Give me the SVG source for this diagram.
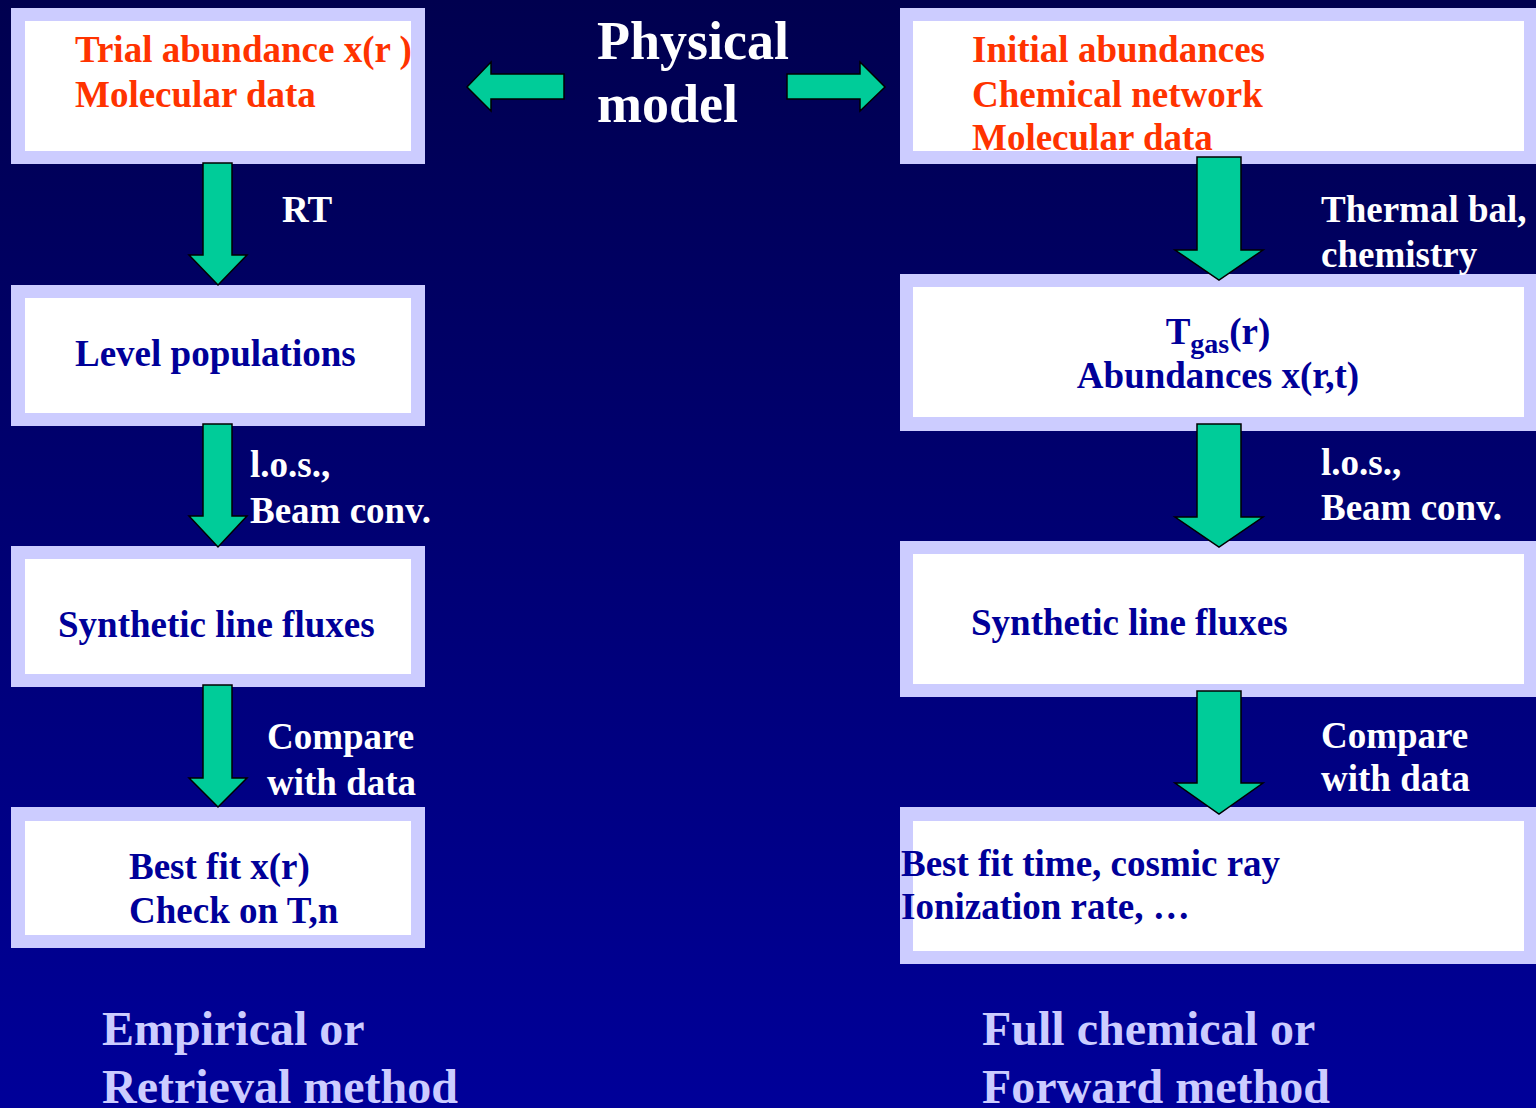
<svg xmlns="http://www.w3.org/2000/svg" width="1536" height="1108" viewBox="0 0 1536 1108">
<defs>
<linearGradient id="bg" x1="0" y1="0" x2="0" y2="1">
<stop offset="0" stop-color="#00004F"/>
<stop offset="1" stop-color="#000099"/>
</linearGradient>
<style>
.ob{fill:#CCCCFF;}
.ib{fill:#FFFFFF;}
text{font-family:"Liberation Serif","Times New Roman",serif;font-weight:bold;font-size:37px;}
.red{fill:#FF3300;}
.blue{fill:#000099;}
.wh{fill:#FFFFFF;}
.big{font-size:54px;}
.foot{fill:#CCCCFF;font-size:48px;}
.arr{fill:#00CC99;stroke:#000000;stroke-width:1.5;stroke-linejoin:miter;}
</style>
</defs>
<rect x="0" y="0" width="1536" height="1108" fill="url(#bg)"/>

<g id="title">
<text class="wh big" x="597" y="59">Physical</text>
<text class="wh big" x="597" y="122">model</text>
</g>

<g id="L1"><rect class="ob" x="11" y="8" width="414" height="156"/><rect class="ib" x="25" y="21" width="386" height="130"/>
<text class="red" x="75" y="62">Trial abundance x(r )</text>
<text class="red" x="75" y="107">Molecular data</text></g>

<g id="L2"><rect class="ob" x="11" y="285" width="414" height="141"/><rect class="ib" x="25" y="298" width="386" height="115"/>
<text class="blue" x="75" y="366">Level populations</text></g>

<g id="L3"><rect class="ob" x="11" y="546" width="414" height="141"/><rect class="ib" x="25" y="559" width="386" height="115"/>
<text class="blue" x="58" y="637">Synthetic line fluxes</text></g>

<g id="L4"><rect class="ob" x="11" y="807" width="414" height="141"/><rect class="ib" x="25" y="821" width="386" height="114"/>
<text class="blue" x="129" y="879">Best fit x(r)</text>
<text class="blue" x="129" y="923">Check on T,n</text></g>

<g id="R1"><rect class="ob" x="900" y="8" width="636" height="156"/><rect class="ib" x="913" y="21" width="611" height="130"/>
<text class="red" x="972" y="62">Initial abundances</text>
<text class="red" x="972" y="107">Chemical network</text>
<text class="red" x="972" y="150">Molecular data</text></g>

<g id="R2"><rect class="ob" x="900" y="274" width="636" height="157"/><rect class="ib" x="913" y="287" width="611" height="130"/>
<text class="blue" x="1218" y="344" text-anchor="middle">T<tspan font-size="28" dy="9">gas</tspan><tspan dy="-9">(r)</tspan></text>
<text class="blue" x="1218" y="388" text-anchor="middle">Abundances x(r,t)</text></g>

<g id="R3"><rect class="ob" x="900" y="541" width="636" height="156"/><rect class="ib" x="913" y="554" width="611" height="130"/>
<text class="blue" x="971" y="635">Synthetic line fluxes</text></g>

<g id="R4"><rect class="ob" x="900" y="807" width="636" height="157"/><rect class="ib" x="913" y="821" width="611" height="130"/>
<text class="blue" x="901" y="876">Best fit time, cosmic ray</text>
<text class="blue" x="901" y="919">Ionization rate, …</text></g>

<g id="connectors">
<path class="arr" d="M564,74 L491,74 L491,62 L467,87 L491,111 L491,99 L564,99 Z"/>
<path class="arr" d="M787,74 L860,74 L860,62 L885,87 L860,111 L860,99 L787,99 Z"/>
<path class="arr" d="M203,163 L232,163 L232,255 L247,255 L218,285 L189,255 L203,255 Z"/>
<path class="arr" d="M203,424 L232,424 L232,516 L247,516 L218,547 L189,516 L203,516 Z"/>
<path class="arr" d="M203,685 L232,685 L232,778 L247,778 L218,807 L189,778 L203,778 Z"/>
<path class="arr" d="M1197,157 L1241,157 L1241,250 L1263,250 L1219,280 L1175,250 L1197,250 Z"/>
<path class="arr" d="M1197,424 L1241,424 L1241,517 L1263,517 L1219,547 L1175,517 L1197,517 Z"/>
<path class="arr" d="M1197,691 L1241,691 L1241,783 L1263,783 L1219,814 L1175,783 L1197,783 Z"/>
</g>

<g id="labels">
<text class="wh" x="282" y="222">RT</text>
<text class="wh" x="250" y="477">l.o.s.,</text>
<text class="wh" x="250" y="523">Beam conv.</text>
<text class="wh" x="267" y="749">Compare</text>
<text class="wh" x="267" y="795">with data</text>
<text class="wh" x="1321" y="222">Thermal bal,</text>
<text class="wh" x="1321" y="267">chemistry</text>
<text class="wh" x="1321" y="475">l.o.s.,</text>
<text class="wh" x="1321" y="520">Beam conv.</text>
<text class="wh" x="1321" y="748">Compare</text>
<text class="wh" x="1321" y="791">with data</text>
</g>

<g id="footer">
<text class="foot" x="102" y="1045">Empirical or</text>
<text class="foot" x="102" y="1103">Retrieval method</text>
<text class="foot" x="982" y="1045">Full chemical or</text>
<text class="foot" x="982" y="1103">Forward method</text>
</g>
</svg>
